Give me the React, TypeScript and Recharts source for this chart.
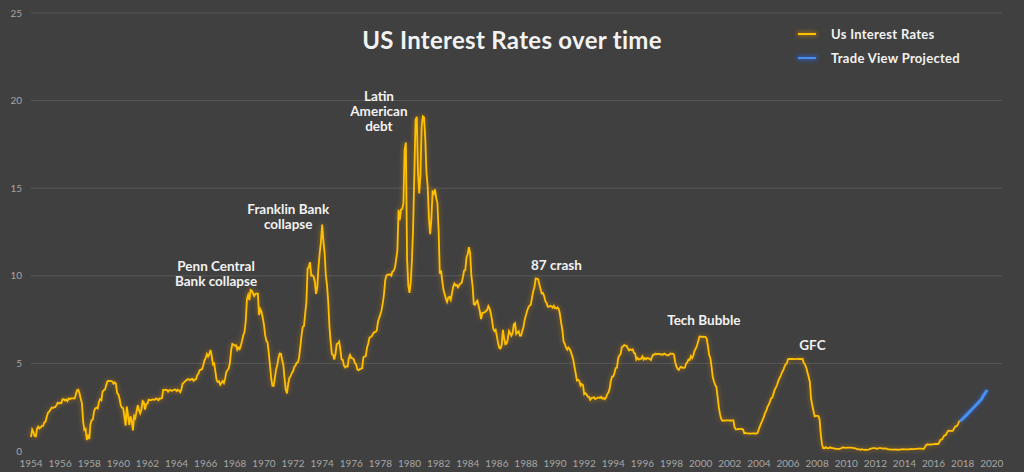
import React from 'react';
import { LineChart, Line, XAxis, YAxis, CartesianGrid, ReferenceDot } from 'recharts';

// monthly effective rate, Jul 1954 onwards
const rates1950s = [
  0.80, 1.22, 1.07, 0.85, 0.83, 1.28,
  1.39, 1.29, 1.35, 1.43, 1.43, 1.64, 1.68, 1.96, 2.18, 2.24, 2.35, 2.48,
  2.45, 2.50, 2.50, 2.62, 2.75, 2.71, 2.75, 2.73, 2.95, 2.96, 2.88, 2.94,
  2.84, 3.00, 2.96, 3.00, 3.00, 3.00, 2.99, 3.24, 3.47, 3.50, 3.28, 2.98,
  2.72, 1.67, 1.20, 1.26, 0.63, 0.93, 0.68, 1.53, 1.76, 1.80, 2.27, 2.42,
  2.48, 2.43, 2.80, 2.96, 2.90, 3.39, 3.47, 3.50, 3.76, 3.98, 4.00, 3.99,
];

const rates1960s = [
  3.99, 3.97, 3.84, 3.92, 3.85, 3.32, 3.23, 2.98, 2.60, 2.47, 2.44, 1.98,
  1.45, 2.54, 2.02, 1.49, 1.98, 1.73, 1.17, 2.00, 1.88, 2.26, 2.61, 2.33,
  2.15, 2.37, 2.85, 2.78, 2.36, 2.68, 2.71, 2.93, 2.90, 2.90, 2.94, 2.93,
  2.92, 3.00, 2.98, 2.90, 3.00, 2.99, 3.02, 3.49, 3.48, 3.50, 3.48, 3.38,
  3.48, 3.48, 3.43, 3.47, 3.50, 3.50, 3.42, 3.50, 3.45, 3.36, 3.52, 3.85,
  3.90, 3.98, 4.04, 4.09, 4.10, 4.04, 4.09, 4.12, 4.01, 4.08, 4.10, 4.32,
  4.42, 4.60, 4.65, 4.67, 4.90, 5.17, 5.30, 5.53, 5.40, 5.53, 5.76, 5.40,
  4.94, 5.00, 4.53, 4.05, 3.94, 3.98, 3.79, 3.90, 3.99, 3.88, 4.13, 4.51,
  4.61, 4.71, 5.05, 5.76, 6.11, 6.07, 6.02, 6.03, 5.78, 5.91, 5.82, 6.02,
  6.30, 6.61, 6.79, 7.41, 8.67, 8.90, 8.61, 9.19, 9.15, 9.00, 8.85, 8.97,
];

const rates1970s = [
  8.98, 8.98, 7.76, 8.10, 7.95, 7.61, 7.21, 6.61, 6.29, 6.20, 5.60, 4.90,
  4.14, 3.72, 3.71, 4.16, 4.63, 4.91, 5.31, 5.56, 5.55, 5.20, 4.91, 4.14,
  3.50, 3.29, 3.83, 4.17, 4.27, 4.46, 4.55, 4.80, 4.87, 5.04, 5.06, 5.33,
  5.94, 6.58, 7.09, 7.12, 7.84, 8.49, 10.40, 10.50, 10.78, 10.01, 10.03, 9.95,
  9.65, 8.97, 9.35, 10.51, 11.31, 11.93, 12.92, 12.01, 11.34, 10.06, 9.45, 8.53,
  7.13, 6.24, 5.54, 5.49, 5.22, 5.55, 6.10, 6.14, 6.24, 5.82, 5.22, 5.20,
  4.87, 4.77, 4.84, 4.82, 5.29, 5.48, 5.31, 5.29, 5.25, 5.02, 4.95, 4.65,
  4.61, 4.68, 4.69, 4.73, 5.35, 5.39, 5.42, 5.90, 6.14, 6.47, 6.51, 6.56,
  6.70, 6.78, 6.79, 6.89, 7.36, 7.60, 7.81, 8.04, 8.45, 8.96, 9.76, 10.03,
  10.07, 10.06, 10.09, 10.01, 10.24, 10.29, 10.47, 10.94, 11.43, 13.77, 13.18, 13.78,
];

const rates1980s = [
  13.82, 14.13, 17.19, 17.61, 10.98, 9.47, 9.03, 9.61, 10.87, 12.81, 15.85, 18.90,
  19.08, 15.93, 14.70, 15.72, 18.52, 19.10, 19.04, 17.82, 15.87, 15.08, 13.31, 12.37,
  13.22, 14.78, 14.68, 14.94, 14.45, 14.15, 12.59, 10.12, 10.31, 9.71, 9.20, 8.95,
  8.68, 8.51, 8.77, 8.80, 8.63, 8.98, 9.37, 9.56, 9.45, 9.48, 9.34, 9.47,
  9.56, 9.59, 9.91, 10.29, 10.32, 11.06, 11.23, 11.64, 11.30, 9.99, 9.43, 8.38,
  8.35, 8.50, 8.58, 8.27, 7.97, 7.53, 7.88, 7.90, 7.92, 7.99, 8.05, 8.27,
  8.14, 7.86, 7.48, 6.99, 6.85, 6.92, 6.56, 6.17, 5.89, 5.85, 6.04, 6.91,
  6.43, 6.10, 6.13, 6.37, 6.85, 6.73, 6.58, 6.73, 7.22, 7.29, 6.69, 6.77,
  6.83, 6.58, 6.58, 6.87, 7.09, 7.51, 7.75, 8.01, 8.19, 8.30, 8.35, 8.76,
  9.12, 9.36, 9.85, 9.84, 9.81, 9.53, 9.24, 8.99, 9.02, 8.84, 8.55, 8.45,
];

const rates1990s = [
  8.23, 8.24, 8.28, 8.26, 8.18, 8.29, 8.15, 8.13, 8.20, 8.11, 7.81, 7.31,
  6.91, 6.25, 6.12, 5.91, 5.78, 5.90, 5.82, 5.66, 5.45, 5.21, 4.81, 4.43,
  4.03, 4.06, 3.98, 3.73, 3.82, 3.76, 3.25, 3.30, 3.22, 3.10, 3.09, 2.92,
  3.02, 3.03, 3.07, 2.96, 3.00, 3.04, 3.06, 3.03, 3.09, 2.99, 3.02, 2.96,
  3.05, 3.25, 3.34, 3.56, 4.01, 4.25, 4.26, 4.47, 4.73, 4.76, 5.29, 5.45,
  5.53, 5.92, 5.98, 6.05, 6.01, 6.00, 5.85, 5.74, 5.80, 5.76, 5.80, 5.60,
  5.56, 5.22, 5.31, 5.22, 5.24, 5.27, 5.40, 5.22, 5.30, 5.24, 5.31, 5.29,
  5.25, 5.19, 5.39, 5.51, 5.50, 5.56, 5.52, 5.54, 5.54, 5.50, 5.52, 5.50,
  5.56, 5.51, 5.49, 5.45, 5.49, 5.56, 5.54, 5.55, 5.51, 5.07, 4.83, 4.68,
  4.63, 4.76, 4.81, 4.74, 4.74, 4.76, 4.99, 5.07, 5.22, 5.20, 5.42, 5.30,
];

const rates2000s = [
  5.45, 5.73, 5.85, 6.02, 6.27, 6.53, 6.54, 6.50, 6.52, 6.51, 6.51, 6.40,
  5.98, 5.49, 5.31, 4.80, 4.21, 3.97, 3.77, 3.65, 3.07, 2.49, 2.09, 1.82,
  1.73, 1.74, 1.73, 1.75, 1.75, 1.75, 1.73, 1.74, 1.75, 1.75, 1.34, 1.24,
  1.24, 1.26, 1.25, 1.26, 1.26, 1.22, 1.01, 1.03, 1.01, 1.01, 1.00, 0.98,
  1.00, 1.01, 1.00, 1.00, 1.00, 1.03, 1.26, 1.43, 1.61, 1.76, 1.93, 2.16,
  2.28, 2.50, 2.63, 2.79, 3.00, 3.04, 3.26, 3.50, 3.62, 3.78, 4.00, 4.16,
  4.29, 4.49, 4.59, 4.79, 4.94, 4.99, 5.24, 5.25, 5.25, 5.25, 5.25, 5.24,
  5.25, 5.26, 5.26, 5.25, 5.25, 5.25, 5.26, 5.02, 4.94, 4.76, 4.49, 4.24,
  3.94, 2.98, 2.61, 2.28, 1.98, 2.00, 2.01, 2.00, 1.81, 0.97, 0.39, 0.16,
  0.15, 0.22, 0.18, 0.15, 0.18, 0.21, 0.16, 0.16, 0.15, 0.12, 0.12, 0.12,
];

const rates2010s = [
  0.11, 0.13, 0.16, 0.20, 0.20, 0.18, 0.18, 0.19, 0.19, 0.19, 0.19, 0.18,
  0.17, 0.16, 0.14, 0.10, 0.09, 0.09, 0.07, 0.10, 0.08, 0.07, 0.08, 0.07,
  0.08, 0.10, 0.13, 0.14, 0.16, 0.16, 0.16, 0.13, 0.14, 0.16, 0.16, 0.16,
  0.14, 0.15, 0.14, 0.15, 0.11, 0.09, 0.09, 0.08, 0.08, 0.09, 0.08, 0.09,
  0.07, 0.07, 0.08, 0.09, 0.09, 0.10, 0.09, 0.09, 0.09, 0.09, 0.09, 0.12,
  0.11, 0.11, 0.11, 0.12, 0.12, 0.13, 0.13, 0.14, 0.14, 0.12, 0.12, 0.24,
  0.34, 0.38, 0.36, 0.37, 0.37, 0.38, 0.39, 0.40, 0.40, 0.40, 0.41, 0.54,
  0.65, 0.66, 0.79, 0.90, 0.91, 1.04, 1.15, 1.16, 1.15, 1.15, 1.16, 1.30,
  1.41, 1.42, 1.51, 1.69, 1.70,
];

const projectedYears = [2017.83, 2018.25, 2018.72, 2019.1, 2019.3, 2019.36, 2019.68];
const projectedValues = [1.70, 2.05, 2.45, 2.78, 2.97, 3.08, 3.48];

const yearTicks = [
  1954, 1956, 1958, 1960, 1962, 1964, 1966, 1968, 1970, 1972, 1974, 1976, 1978,
  1980, 1982, 1984, 1986, 1988, 1990, 1992, 1994, 1996, 1998, 2000, 2002, 2004,
  2006, 2008, 2010, 2012, 2014, 2016, 2018, 2020,
];
const rateTicks = [0, 5, 10, 15, 20, 25];

const annotations = [
  { year: 1966.71, value: 10.1, lines: ['Penn Central', 'Bank collapse'] },
  { year: 1971.67, value: 13.37, lines: ['Franklin Bank', 'collapse'] },
  { year: 1977.9, value: 19.38, lines: ['Latin', 'American', 'debt'] },
  { year: 1990.09, value: 10.58, lines: ['87 crash'] },
  { year: 2000.22, value: 7.44, lines: ['Tech Bubble'] },
  { year: 2007.68, value: 6.01, lines: ['GFC'] },
];

const monthly = [...rates1950s, ...rates1960s, ...rates1970s, ...rates1980s, ...rates1990s, ...rates2000s, ...rates2010s];
const rateData = monthly.map((rate, i) => ({ year: 1954 + i / 12, value: rate }));
const projectedData = projectedYears.map((year, i) => ({ year, value: projectedValues[i] }));

const FONT = 'Lato, "Open Sans", sans-serif';

function AnnoLabel(props: any) {
  const { viewBox, lines } = props;
  const cx = viewBox.x + (viewBox.width || 0) / 2;
  const cy = viewBox.y + (viewBox.height || 0) / 2;
  const lh = 15;
  const start = cy - ((lines.length - 1) * lh) / 2;
  return (
    <text x={cx} textAnchor="middle" fill="#f2f2f2" fontSize={13.5} fontWeight={700} fontFamily={FONT}>
      {lines.map((l: string, i: number) => (
        <tspan key={i} x={cx} y={start + i * lh} dy="0.35em">
          {l}
        </tspan>
      ))}
    </text>
  );
}

function LegendRow({ color, glow, label }: { color: string; glow: string; label: string }) {
  return (
    <div style={{ display: 'flex', alignItems: 'center', height: 24 }}>
      <div style={{ width: 18, height: 2, background: color, boxShadow: `0 0 4px 1px ${glow}`, marginRight: 15 }} />
      <span style={{ color: '#f2f2f2', fontSize: 13, fontWeight: 700, fontFamily: FONT, letterSpacing: 0.3 }}>{label}</span>
    </div>
  );
}

export default function App() {
  return (
    <div style={{ position: 'absolute', left: 0, top: 0, width: 1024, height: 472, background: '#404040' }}>
      <LineChart width={1024} height={472} margin={{ top: 13, right: 22, bottom: 0, left: 0 }}>
        <defs>
          <filter id="glowGold" filterUnits="userSpaceOnUse" x="0" y="0" width="1024" height="472">
            <feGaussianBlur in="SourceAlpha" stdDeviation="2.4" result="b" />
            <feFlood floodColor="#e08a00" floodOpacity="0.65" />
            <feComposite in2="b" operator="in" result="g" />
            <feMerge>
              <feMergeNode in="g" />
              <feMergeNode in="SourceGraphic" />
            </feMerge>
          </filter>
          <filter id="glowBlue" filterUnits="userSpaceOnUse" x="0" y="0" width="1024" height="472">
            <feGaussianBlur in="SourceAlpha" stdDeviation="2.2" result="b" />
            <feFlood floodColor="#2a66e0" floodOpacity="0.85" />
            <feComposite in2="b" operator="in" result="g" />
            <feMerge>
              <feMergeNode in="g" />
              <feMergeNode in="SourceGraphic" />
            </feMerge>
          </filter>
        </defs>
        <CartesianGrid vertical={false} stroke="#575757" horizontalValues={[5, 10, 15, 20, 25]} />
        <XAxis
          dataKey="year"
          type="number"
          domain={[1954, 2020.7]}
          ticks={yearTicks}
          interval={0}
          height={21}
          axisLine={false}
          tickLine={false}
          tickMargin={3}
          tick={{ fontSize: 10, fill: '#a6a6a6', fontFamily: FONT }}
          allowDuplicatedCategory={false}
        />
        <YAxis
          domain={[0, 25]}
          ticks={rateTicks}
          width={31}
          axisLine={false}
          tickLine={false}
          tickMargin={3}
          tick={{ fontSize: 10, fill: '#a6a6a6', fontFamily: FONT }}
        />
        <Line
          data={rateData}
          dataKey="value"
          type="linear"
          stroke="#ffc000"
          strokeWidth={1.8}
          dot={false}
          filter="url(#glowGold)"
          isAnimationActive={false}
        />
        <Line
          data={projectedData}
          dataKey="value"
          type="linear"
          stroke="#4a8ff0"
          strokeWidth={3}
          dot={false}
          filter="url(#glowBlue)"
          isAnimationActive={false}
        />
        {annotations.map((a) => (
          <ReferenceDot
            key={a.lines.join(' ')}
            x={a.year}
            y={a.value}
            r={0}
            fill="none"
            stroke="none"
            label={<AnnoLabel lines={a.lines} />}
          />
        ))}
      </LineChart>
      <div
        style={{
          position: 'absolute',
          left: 0,
          width: 1024,
          top: 24,
          textAlign: 'center',
          color: '#f2f2f2',
          fontSize: 24,
          fontWeight: 700,
          fontFamily: FONT,
          letterSpacing: 0.3,
          lineHeight: '32px',
        }}
      >
        US Interest Rates over time
      </div>
      <div style={{ position: 'absolute', left: 798, top: 22 }}>
        <LegendRow color="#ffc000" glow="rgba(224,138,0,0.6)" label="Us Interest Rates" />
        <LegendRow color="#4a8ff0" glow="rgba(42,102,224,0.8)" label="Trade View Projected" />
      </div>
    </div>
  );
}
